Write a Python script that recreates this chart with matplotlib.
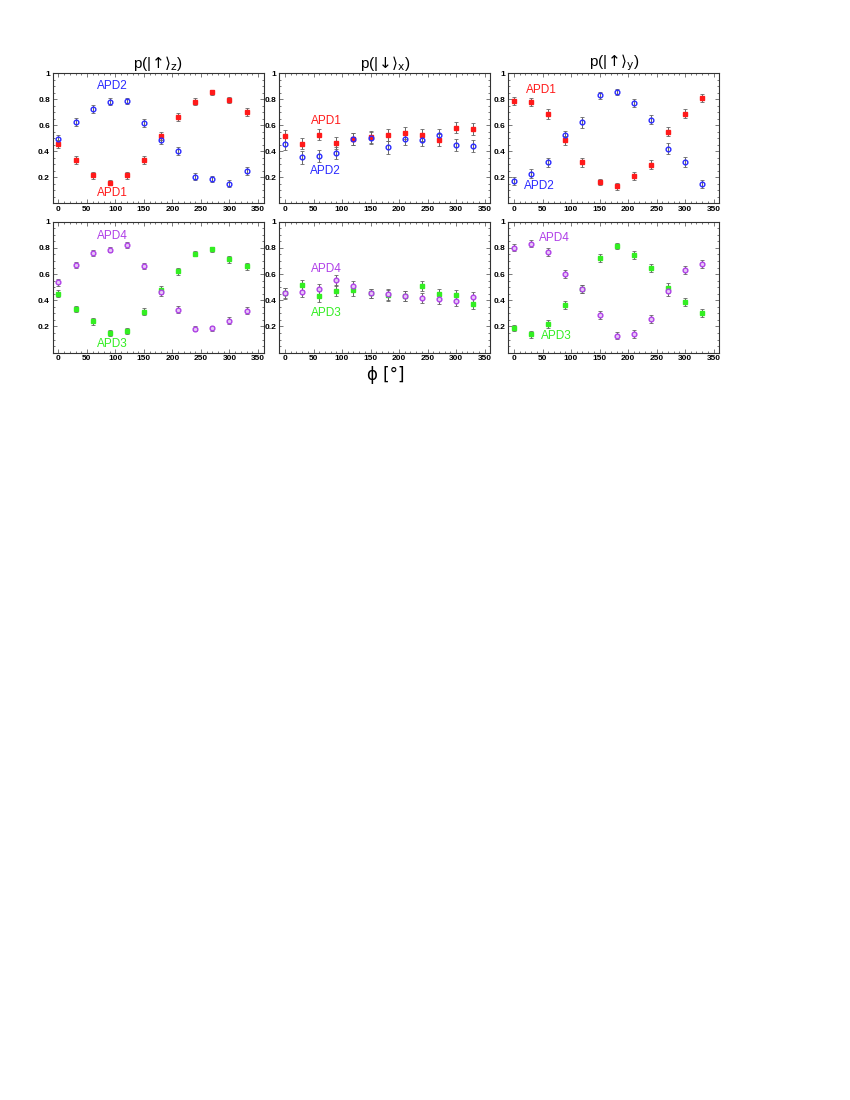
import numpy as np
import matplotlib.pyplot as plt
from matplotlib.ticker import MultipleLocator, FixedLocator

plt.rcParams["font.family"] = ["Liberation Sans", "DejaVu Sans"]
plt.rcParams["mathtext.fontset"] = "dejavusans"

# ── data ──────────────────────────────────────────────────────────────────
phi = [0, 30, 60, 90, 120, 150, 180, 210, 240, 270, 300, 330]

# p(|up>_z)
z_apd1 = [0.456, 0.333, 0.215, 0.159, 0.215, 0.333, 0.515, 0.662, 0.782, 0.854, 0.795, 0.705]
z_apd2 = [0.495, 0.623, 0.723, 0.782, 0.787, 0.620, 0.487, 0.405, 0.205, 0.185, 0.151, 0.251]
z_err1 = [0.03, 0.03, 0.025, 0.02, 0.025, 0.03, 0.03, 0.03, 0.025, 0.02, 0.025, 0.03]
z_err2 = [0.03, 0.03, 0.03, 0.025, 0.025, 0.03, 0.03, 0.03, 0.025, 0.025, 0.025, 0.03]

# p(|down>_x)
x_apd1 = [0.520, 0.459, 0.528, 0.464, 0.497, 0.508, 0.523, 0.541, 0.523, 0.487, 0.582, 0.569]
x_apd2 = [0.454, 0.356, 0.362, 0.385, 0.497, 0.500, 0.433, 0.495, 0.485, 0.526, 0.449, 0.441]
x_err1 = [0.045, 0.045, 0.04, 0.045, 0.045, 0.045, 0.045, 0.045, 0.045, 0.045, 0.045, 0.045]
x_err2 = [0.045, 0.05, 0.045, 0.045, 0.045, 0.045, 0.05, 0.045, 0.045, 0.045, 0.045, 0.045]

# p(|up>_y)
y_apd1 = [0.787, 0.777, 0.687, 0.485, 0.315, 0.162, 0.131, 0.210, 0.297, 0.551, 0.690, 0.810]
y_apd2 = [0.172, 0.228, 0.315, 0.523, 0.623, 0.831, 0.856, 0.774, 0.644, 0.421, 0.318, 0.149]
y_err1 = [0.03, 0.03, 0.035, 0.035, 0.035, 0.025, 0.025, 0.03, 0.035, 0.035, 0.035, 0.03]
y_err2 = [0.03, 0.035, 0.035, 0.035, 0.04, 0.025, 0.025, 0.03, 0.035, 0.04, 0.035, 0.03]

# bottom row, APD3 / APD4
z_apd3 = [0.450, 0.333, 0.239, 0.150, 0.165, 0.313, 0.478, 0.621, 0.756, 0.789, 0.712, 0.659]
z_apd4 = [0.537, 0.669, 0.761, 0.786, 0.822, 0.662, 0.461, 0.328, 0.183, 0.186, 0.244, 0.321]
x_apd3 = [0.455, 0.517, 0.430, 0.473, 0.476, 0.455, 0.438, 0.433, 0.511, 0.450, 0.440, 0.374]
x_apd4 = [0.453, 0.463, 0.486, 0.552, 0.509, 0.455, 0.445, 0.433, 0.417, 0.410, 0.397, 0.422]
y_apd3 = [0.188, 0.140, 0.219, 0.361, 0.489, 0.723, 0.814, 0.748, 0.646, 0.494, 0.389, 0.305]
y_apd4 = [0.802, 0.832, 0.771, 0.603, 0.489, 0.290, 0.130, 0.145, 0.257, 0.468, 0.634, 0.679]
b_err_z = [0.025, 0.025, 0.025, 0.02, 0.02, 0.025, 0.03, 0.025, 0.02, 0.02, 0.025, 0.025]
b_err_x = [0.04, 0.04, 0.04, 0.04, 0.04, 0.035, 0.04, 0.04, 0.04, 0.04, 0.04, 0.04]
b_err_y = [0.025, 0.025, 0.03, 0.03, 0.03, 0.03, 0.025, 0.03, 0.03, 0.035, 0.03, 0.03]

titles = [r"p(|$\!\uparrow\!\rangle_{\mathrm{z}}$)",
          r"p(|$\!\downarrow\!\rangle_{\mathrm{x}}$)",
          r"p(|$\!\uparrow\!\rangle_{\mathrm{y}}$)"]

RED, BLUE, PURPLE, GREEN = "#ff1a1a", "#2a2aff", "#b040e8", "#33ee22"

# (series A, err A, series B, err B, label positions)
top_panels = [
    (z_apd1, z_err1, z_apd2, z_err2, (95, 0.08), (95, 0.90)),
    (x_apd1, x_err1, x_apd2, x_err2, (72, 0.63), (70, 0.245)),
    (y_apd1, y_err1, y_apd2, y_err2, (48, 0.87), (45, 0.13)),
]
bot_panels = [
    (z_apd3, b_err_z, z_apd4, b_err_z, (95, 0.07), (95, 0.89)),
    (x_apd3, b_err_x, x_apd4, b_err_x, (72, 0.30), (72, 0.636)),
    (y_apd3, b_err_y, y_apd4, b_err_y, (74, 0.13), (71, 0.873)),
]

W, H = 850, 1100
lefts = [52.7, 279.3, 508.3]
pw = 211
rows = [(73.3, 130), (221.7, 131)]


def style_axes(ax):
    ax.set_xlim(-10, 360)
    ax.set_ylim(0, 1)
    ax.xaxis.set_major_locator(FixedLocator([0, 50, 100, 150, 200, 250, 300, 350]))
    ax.xaxis.set_minor_locator(MultipleLocator(10))
    ax.yaxis.set_major_locator(FixedLocator([0.2, 0.4, 0.6, 0.8, 1.0]))
    ax.yaxis.set_minor_locator(MultipleLocator(0.05))
    ax.set_yticklabels(["0.2", "0.4", "0.6", "0.8", "1"])
    ax.tick_params(which="both", direction="in", top=True, right=True,
                   labelsize=6, pad=2, width=0.5, colors="#444444", labelcolor="black")
    ax.tick_params(which="major", length=3)
    ax.tick_params(which="minor", length=1.5)
    for lab in ax.get_xticklabels() + ax.get_yticklabels():
        lab.set_fontweight("bold")
    for sp in ax.spines.values():
        sp.set_linewidth(0.8)
        sp.set_color("#333333")


fig = plt.figure(figsize=(8.5, 11), dpi=100)

for r, (panels, cols, labs) in enumerate([
        (top_panels, (RED, BLUE), ("APD1", "APD2")),
        (bot_panels, (GREEN, PURPLE), ("APD3", "APD4"))]):
    top, ph = rows[r]
    for c, (ya, ea, yb, eb, posa, posb) in enumerate(panels):
        ax = fig.add_axes([lefts[c] / W, 1 - (top + ph) / H, pw / W, ph / H])
        # filled squares
        ax.errorbar(phi, ya, yerr=ea, fmt="none", ecolor="#666666",
                    elinewidth=0.7, capsize=1.3, capthick=0.6, zorder=2)
        ax.plot(phi, ya, ls="none", marker="s", ms=3.0, mfc=cols[0],
                mec=cols[0], zorder=3)
        # open circles
        ax.errorbar(phi, yb, yerr=eb, fmt="none", ecolor="#666666",
                    elinewidth=0.7, capsize=1.3, capthick=0.6, zorder=2)
        face = "#e6c8f5" if cols[1] == PURPLE else "none"
        ax.plot(phi, yb, ls="none", marker="o", ms=3.4, mfc=face,
                mec=cols[1], mew=1.0, zorder=4)
        ax.text(posa[0], posa[1], labs[0], color=cols[0], fontsize=8.5,
                ha="center", va="center")
        ax.text(posb[0], posb[1], labs[1], color=cols[1], fontsize=8.5,
                ha="center", va="center")
        style_axes(ax)
        if r == 0:
            ax.set_title(titles[c], fontsize=11, pad=4)

fig.text(386 / W, 1 - 375 / H, "ϕ [°]", fontsize=12, ha="center", va="center",
         family=["DejaVu Sans"])

fig.savefig("out.png", dpi=100)
